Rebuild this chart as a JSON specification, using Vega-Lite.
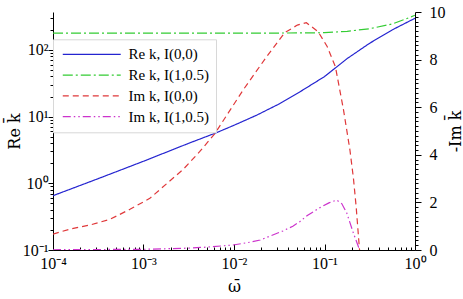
{
  "$schema": "https://vega.github.io/schema/vega-lite/v6.json",
  "width": 362,
  "height": 238,
  "autosize": {"type": "none"},
  "padding": {"left": 53, "top": 12, "right": 48, "bottom": 49},
  "background": "white",
  "config": {
    "view": {"stroke": null},
    "font": "Liberation Serif",
    "axis": {
      "grid": false,
      "domainColor": "black",
      "tickColor": "black",
      "labelColor": "black",
      "titleColor": "black",
      "labelFont": "Liberation Serif",
      "titleFont": "DejaVu Serif",
      "labelFontSize": 16,
      "titleFontSize": 16,
      "titleFontWeight": "normal",
      "labelOverlap": false,
      "labelFlush": false,
      "domainWidth": 1,
      "tickWidth": 1
    },
    "legend": {
      "orient": "none",
      "legendX": 0,
      "legendY": 27.3,
      "fillColor": "white",
      "strokeColor": "#d8d8d8",
      "padding": 7,
      "symbolType": "M-4,0H4",
      "symbolSize": 210,
      "symbolStrokeWidth": 1.2,
      "symbolOffset": 23.75,
      "labelOffset": 28.75,
      "labelFont": "Liberation Serif",
      "labelFontSize": 15,
      "labelColor": "black",
      "labelLimit": 300,
      "rowPadding": 4.8
    }
  },
  "datasets": {
    "re": [
      {"s": "Re k, I(0,0)", "x": 0.0001, "y": 0.652},
      {"s": "Re k, I(0,0)", "x": 0.000316, "y": 1.175},
      {"s": "Re k, I(0,0)", "x": 0.001, "y": 2.14},
      {"s": "Re k, I(0,0)", "x": 0.00316, "y": 3.98},
      {"s": "Re k, I(0,0)", "x": 0.00631, "y": 5.69},
      {"s": "Re k, I(0,0)", "x": 0.01, "y": 7.41},
      {"s": "Re k, I(0,0)", "x": 0.0178, "y": 10.5},
      {"s": "Re k, I(0,0)", "x": 0.0316, "y": 15.5},
      {"s": "Re k, I(0,0)", "x": 0.0562, "y": 24.5},
      {"s": "Re k, I(0,0)", "x": 0.1, "y": 39.8},
      {"s": "Re k, I(0,0)", "x": 0.178, "y": 74.1},
      {"s": "Re k, I(0,0)", "x": 0.316, "y": 126},
      {"s": "Re k, I(0,0)", "x": 0.562, "y": 200},
      {"s": "Re k, I(0,0)", "x": 1, "y": 298},
      {"s": "Re k, I(1,0.5)", "x": 0.0001, "y": 179},
      {"s": "Re k, I(1,0.5)", "x": 0.001, "y": 179},
      {"s": "Re k, I(1,0.5)", "x": 0.01, "y": 179},
      {"s": "Re k, I(1,0.5)", "x": 0.0316, "y": 179},
      {"s": "Re k, I(1,0.5)", "x": 0.1, "y": 181},
      {"s": "Re k, I(1,0.5)", "x": 0.178, "y": 190},
      {"s": "Re k, I(1,0.5)", "x": 0.316, "y": 208},
      {"s": "Re k, I(1,0.5)", "x": 0.562, "y": 245},
      {"s": "Re k, I(1,0.5)", "x": 0.75, "y": 283},
      {"s": "Re k, I(1,0.5)", "x": 1, "y": 331}
    ],
    "im": [
      {"s": "Im k, I(0,0)", "x": 0.0001, "y": 0.67},
      {"s": "Im k, I(0,0)", "x": 0.000155, "y": 0.88},
      {"s": "Im k, I(0,0)", "x": 0.000257, "y": 1.05},
      {"s": "Im k, I(0,0)", "x": 0.000427, "y": 1.29},
      {"s": "Im k, I(0,0)", "x": 0.000708, "y": 1.71},
      {"s": "Im k, I(0,0)", "x": 0.001175, "y": 2.17},
      {"s": "Im k, I(0,0)", "x": 0.00182, "y": 2.8},
      {"s": "Im k, I(0,0)", "x": 0.00275, "y": 3.39},
      {"s": "Im k, I(0,0)", "x": 0.00417, "y": 4.13},
      {"s": "Im k, I(0,0)", "x": 0.00617, "y": 4.9},
      {"s": "Im k, I(0,0)", "x": 0.0126, "y": 6.72},
      {"s": "Im k, I(0,0)", "x": 0.0229, "y": 8.12},
      {"s": "Im k, I(0,0)", "x": 0.0363, "y": 9.13},
      {"s": "Im k, I(0,0)", "x": 0.0501, "y": 9.45},
      {"s": "Im k, I(0,0)", "x": 0.0631, "y": 9.55},
      {"s": "Im k, I(0,0)", "x": 0.0851, "y": 9.17},
      {"s": "Im k, I(0,0)", "x": 0.107, "y": 8.55},
      {"s": "Im k, I(0,0)", "x": 0.132, "y": 7.7},
      {"s": "Im k, I(0,0)", "x": 0.162, "y": 5.9},
      {"s": "Im k, I(0,0)", "x": 0.191, "y": 4.2},
      {"s": "Im k, I(0,0)", "x": 0.209, "y": 3.0},
      {"s": "Im k, I(0,0)", "x": 0.224, "y": 1.8},
      {"s": "Im k, I(0,0)", "x": 0.237, "y": 0.6},
      {"s": "Im k, I(0,0)", "x": 0.244, "y": 0},
      {"s": "Im k, I(1,0.5)", "x": 0.0001, "y": 0.01},
      {"s": "Im k, I(1,0.5)", "x": 0.001, "y": 0.03},
      {"s": "Im k, I(1,0.5)", "x": 0.00275, "y": 0.07},
      {"s": "Im k, I(1,0.5)", "x": 0.00501, "y": 0.12},
      {"s": "Im k, I(1,0.5)", "x": 0.00977, "y": 0.21},
      {"s": "Im k, I(1,0.5)", "x": 0.0151, "y": 0.33},
      {"s": "Im k, I(1,0.5)", "x": 0.0195, "y": 0.42},
      {"s": "Im k, I(1,0.5)", "x": 0.0347, "y": 0.8},
      {"s": "Im k, I(1,0.5)", "x": 0.0447, "y": 1.0},
      {"s": "Im k, I(1,0.5)", "x": 0.0537, "y": 1.2},
      {"s": "Im k, I(1,0.5)", "x": 0.0646, "y": 1.45},
      {"s": "Im k, I(1,0.5)", "x": 0.0891, "y": 1.78},
      {"s": "Im k, I(1,0.5)", "x": 0.112, "y": 1.98},
      {"s": "Im k, I(1,0.5)", "x": 0.136, "y": 2.1},
      {"s": "Im k, I(1,0.5)", "x": 0.155, "y": 1.95},
      {"s": "Im k, I(1,0.5)", "x": 0.176, "y": 1.56},
      {"s": "Im k, I(1,0.5)", "x": 0.209, "y": 0.7},
      {"s": "Im k, I(1,0.5)", "x": 0.237, "y": 0.14},
      {"s": "Im k, I(1,0.5)", "x": 0.243, "y": 0}
    ]
  },
  "layer": [
    {
      "data": {"name": "re"},
      "mark": {"type": "line", "strokeWidth": 1.2, "clip": true},
      "encoding": {
        "x": {
          "field": "x",
          "type": "quantitative",
          "scale": {"type": "log", "domain": [0.0001, 1], "nice": false},
          "axis": {
            "title": "ω̄",
            "labelFont": "Liberation Serif",
            "values": [0.0001,0.0002,0.0003,0.0004,0.0005,0.0006,0.0007,0.0008,0.0009,0.001,0.002,0.003,0.004,0.005,0.006,0.007,0.008,0.009,0.01,0.02,0.03,0.04,0.05,0.06,0.07,0.08,0.09,0.1,0.2,0.3,0.4,0.5,0.6,0.7,0.8,0.9,1],
            "labelExpr": "datum.value == 0.0001 ? '10⁻⁴' : datum.value == 0.001 ? '10⁻³' : datum.value == 0.01 ? '10⁻²' : datum.value == 0.1 ? '10⁻¹' : datum.value == 1 ? '10⁰' : ''",
            "tickSize": {"condition": {"test": "indexof([0.0001,0.001,0.01,0.1,1], datum.value) >= 0", "value": -6}, "value": -3},
            "labelPadding": 11,
            "titlePadding": 4
          }
        },
        "y": {
          "field": "y",
          "type": "quantitative",
          "scale": {"type": "log", "domain": [0.1, 370], "nice": false},
          "axis": {
            "orient": "left",
            "title": "Re k̄",
            "labelFont": "Liberation Serif",
            "titleX": -31,
            "titleAngle": 270,
            "titleBaseline": "bottom",
            "titleAlign": "center",
            "values": [0.1,0.2,0.3,0.4,0.5,0.6,0.7,0.8,0.9,1,2,3,4,5,6,7,8,9,10,20,30,40,50,60,70,80,90,100,200,300],
            "labelExpr": "datum.value == 0.1 ? '10⁻¹' : datum.value == 1 ? '10⁰' : datum.value == 10 ? '10¹' : datum.value == 100 ? '10²' : ''",
            "tickSize": {"condition": {"test": "indexof([0.1,1,10,100], datum.value) >= 0", "value": 5}, "value": 3},
            "labelPadding": 0
          }
        },
        "color": {
          "field": "s",
          "type": "nominal",
          "title": null,
          "scale": {
            "domain": ["Re k, I(0,0)", "Re k, I(1,0.5)", "Im k, I(0,0)", "Im k, I(1,0.5)"],
            "range": ["#2424d0", "#33cc33", "#e0383a", "#cc33cc"]
          }
        },
        "strokeDash": {
          "field": "s",
          "type": "nominal",
          "title": null,
          "scale": {
            "domain": ["Re k, I(0,0)", "Re k, I(1,0.5)", "Im k, I(0,0)", "Im k, I(1,0.5)"],
            "range": [[1, 0], [10, 3, 2, 3], [6, 4], [8, 3, 1.5, 3, 1.5, 3]]
          }
        }
      }
    },
    {
      "data": {"name": "im"},
      "mark": {"type": "line", "strokeWidth": 1.2, "clip": true},
      "encoding": {
        "x": {"field": "x", "type": "quantitative", "scale": {"type": "log", "domain": [0.0001, 1], "nice": false}},
        "y": {
          "field": "y",
          "type": "quantitative",
          "scale": {"domain": [0, 10], "nice": false},
          "axis": {
            "orient": "right",
            "title": "-Im k̄",
            "labelFont": "Liberation Serif",
            "titleX": 48,
            "titleAngle": 270,
            "titleBaseline": "bottom",
            "titleAlign": "center",
            "values": [0,0.2,0.4,0.6,0.8,1,1.2,1.4,1.6,1.8,2,2.2,2.4,2.6,2.8,3,3.2,3.4,3.6,3.8,4,4.2,4.4,4.6,4.8,5,5.2,5.4,5.6,5.8,6,6.2,6.4,6.6,6.8,7,7.2,7.4,7.6,7.8,8,8.2,8.4,8.6,8.8,9,9.2,9.4,9.6,9.8,10],
            "labelExpr": "indexof([0,2,4,6,8,10], datum.value) >= 0 ? format(datum.value, 'd') : ''",
            "tickSize": {"condition": {"test": "indexof([0,2,4,6,8,10], datum.value) >= 0", "value": 6}, "value": 3},
            "labelPadding": 8
          }
        },
        "color": {"field": "s", "type": "nominal", "title": null},
        "strokeDash": {"field": "s", "type": "nominal", "title": null}
      }
    }
  ],
  "resolve": {"scale": {"y": "independent"}}
}
